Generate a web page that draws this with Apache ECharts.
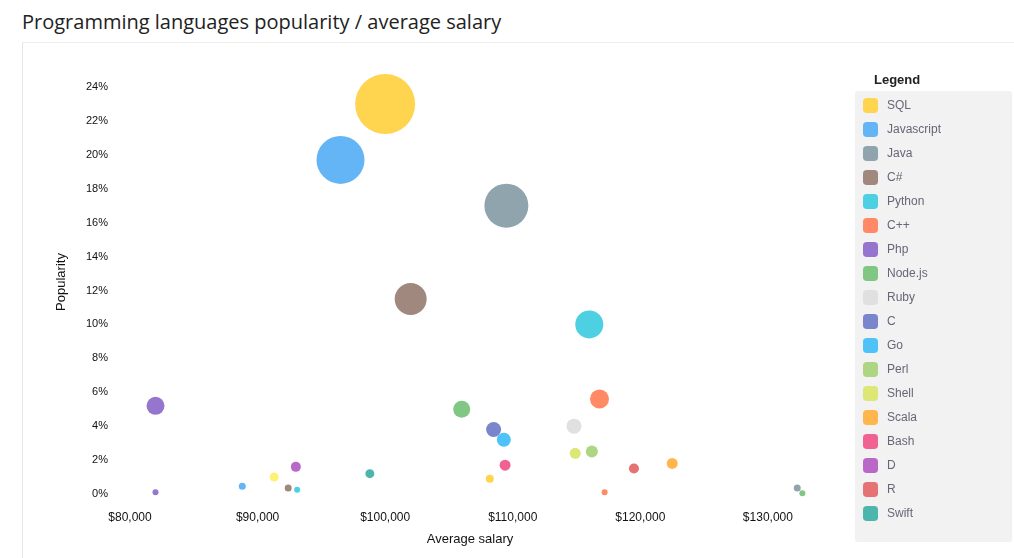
<!DOCTYPE html>
<html>
<head>
<meta charset="utf-8">
<script src="https://cdn.jsdelivr.net/npm/echarts@6/dist/echarts.min.js"></script>
<style>
  body { margin: 0; background: #fff; font-family: "Open Sans", Roboto, sans-serif; }
  #title { position: absolute; left: 22px; top: 8px; font-size: 20px; color: #222; }
  #card { position: absolute; left: 22px; top: 42px; width: 992px; height: 516px;
          border-left: 1px solid #e6e6e6; border-top: 1px solid #eee; }
  #chart { position: absolute; left: 0; top: 0; width: 1014px; height: 558px; }
</style>
</head>
<body>
<div id="title">Programming languages popularity / average salary</div>
<div id="card"></div>
<div id="chart"></div>
<script>
var names = ['SQL','Javascript','Java','C#','Python','C++','Php','Node.js','Ruby','C','Go','Perl','Shell','Scala','Bash','D','R','Swift','Visual Basic',
             'Assembly','Objective-C','Delphi','Typescript','Kotlin','Haskell','Groovy','Elixir'];
var salary = [100000,96500,109500,102000,116000,116800,82000,106000,114800,108500,109300,116200,114900,122500,109400,93000,119500,98800,91300,
              82000,88800,92400,93100,108200,117200,132300,132700];
var popularity = [23.0,19.7,17.0,11.5,10.0,5.6,5.2,5.0,4.0,3.8,3.2,2.5,2.4,1.8,1.7,1.6,1.5,1.2,1.0,
                  0.1,0.45,0.35,0.25,0.9,0.1,0.35,0.05];
var bubble = [60,48,44,32,28,19,18,17,15,15,14,12,11,11,11,10,10,9,9,
              6,7,7,6,8,6,7,6];
var colors = ['#FFD54F','#64B5F6','#90A4AE','#A1887F','#4DD0E1','#FF8A65','#9575CD','#81C784','#E0E0E0','#7986CB','#4FC3F7','#AED581','#DCE775','#FFB74D','#F06292','#BA68C8','#E57373','#4DB6AC','#FFF176',
              '#9575CD','#64B5F6','#A1887F','#4DD0E1','#FFD54F','#FF8A65','#90A4AE','#81C784'];

var series = names.map(function (n, i) {
  return {
    name: n, type: 'scatter',
    symbolSize: bubble[i],
    itemStyle: { color: colors[i], opacity: 1 },
    data: [[salary[i], popularity[i]]]
  };
});

var chart = echarts.init(document.getElementById('chart'));
chart.setOption({
  animation: false,
  title: { text: 'Legend', left: 869, top: 69, textStyle: { fontSize: 13, fontWeight: 'bold', color: '#222' } },
  grid: { left: 130, right: 204, top: 70, bottom: 64 },
  legend: {
    type: 'scroll', orient: 'vertical', left: 855, top: 91, height: 444,
    backgroundColor: '#f2f2f2', borderRadius: 3, padding: [7, 60, 0, 8],
    itemWidth: 15, itemHeight: 15, itemGap: 9, icon: 'roundRect',
    textStyle: { color: '#667', fontSize: 12, padding: [0, 0, 0, 4] },
    pageButtonPosition: 'end', pageIconSize: 0, pageTextStyle: { color: 'transparent' },
    data: names
  },
  xAxis: {
    type: 'value', min: 80000, max: 133300, interval: 10000,
    name: 'Average salary', nameLocation: 'middle', nameGap: 39,
    nameTextStyle: { fontSize: 13, color: '#111' },
    axisLine: { show: false }, axisTick: { show: false }, splitLine: { show: false },
    axisLabel: { formatter: '${value}', color: '#111', fontSize: 12, margin: 18, showMaxLabel: false }
  },
  yAxis: {
    type: 'value', min: 0, max: 25, interval: 2,
    name: 'Popularity', nameLocation: 'middle', nameGap: 62,
    nameTextStyle: { fontSize: 13, color: '#111' },
    axisLine: { show: false }, axisTick: { show: false }, splitLine: { show: false },
    axisLabel: { formatter: '{value}%', color: '#111', fontSize: 11, margin: 22, showMaxLabel: false }
  },
  series: series
});
</script>
</body>
</html>
